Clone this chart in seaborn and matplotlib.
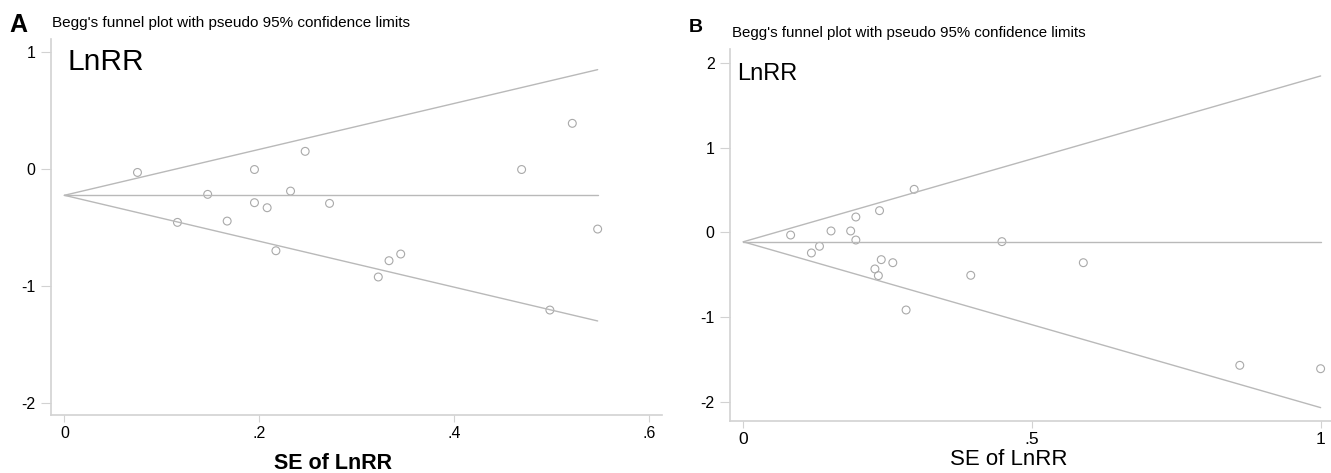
import numpy as np
import pandas as pd
import matplotlib
matplotlib.use("Agg")
import matplotlib.pyplot as plt
import seaborn as sns

# панель A: SE и LnRR отдельных исследований
se_a = [0.075, 0.116, 0.147, 0.167, 0.195, 0.195, 0.208, 0.217, 0.232, 0.247,
        0.272, 0.322, 0.333, 0.345, 0.469, 0.498, 0.521, 0.547]
lnrr_a = [-0.03, -0.456, -0.217, -0.445, -0.005, -0.288, -0.331, -0.698, -0.189, 0.15,
          -0.294, -0.922, -0.783, -0.726, -0.005, -1.204, 0.389, -0.513]
pooled_a = -0.225

# панель B
se_b = [0.082, 0.118, 0.132, 0.152, 0.186, 0.195, 0.195, 0.228, 0.234, 0.236,
        0.239, 0.259, 0.282, 0.296, 0.394, 0.448, 0.589, 0.860, 1.000]
lnrr_b = [-0.03, -0.242, -0.163, 0.018, 0.018, 0.183, -0.089, -0.431, -0.51, 0.258,
          -0.321, -0.357, -0.916, 0.51, -0.506, -0.108, -0.357, -1.57, -1.61]
pooled_b = -0.11

yticks_a = [-2, -1, 0, 1]
xticks_a = [0, 0.2, 0.4, 0.6]
xticklabels_a = ["0", ".2", ".4", ".6"]
yticks_b = [-2, -1, 0, 1, 2]
xticks_b = [0, 0.5, 1]
xticklabels_b = ["0", ".5", "1"]

title = "Begg's funnel plot with pseudo 95% confidence limits"

sns.set_style("white")
plt.rcParams["font.family"] = ["Liberation Sans", "DejaVu Sans"]
plt.rcParams["text.color"] = "black"

W, H = 1331, 473
fig = plt.figure(figsize=(W / 100, H / 100), dpi=100)

line_col = "#b9b9b9"
spine_col = "#d2d2d2"
marker_col = "#a9a9a9"


def px_axes(left, top, right, bottom):
    return fig.add_axes([left / W, 1 - bottom / H, (right - left) / W, (bottom - top) / H])


def funnel(ax, se, lnrr, pooled, xlim, ylim, xticks, xticklabels, yticks, xtick_size):
    df = pd.DataFrame({"se": se, "lnrr": lnrr})
    grid = np.array([0.0] + sorted(se))
    lim = pd.DataFrame({
        "se": np.concatenate([grid, grid, grid]),
        "val": np.concatenate([pooled + 1.96 * grid, pooled - 1.96 * grid,
                               np.full(len(grid), pooled)]),
        "part": ["up"] * len(grid) + ["low"] * len(grid) + ["mid"] * len(grid),
    })
    sns.lineplot(data=lim, x="se", y="val", units="part", estimator=None,
                 color=line_col, linewidth=1.0, sort=False, ax=ax)
    sns.scatterplot(data=df, x="se", y="lnrr", facecolor="none", edgecolor=marker_col,
                    linewidth=0.8, s=32, ax=ax)
    ax.set_xlim(*xlim)
    ax.set_ylim(*ylim)
    ax.set_xticks(xticks)
    ax.set_xticklabels(xticklabels)
    ax.set_yticks(yticks)
    ax.set_yticklabels([str(t) for t in yticks])
    ax.set_xlabel("")
    ax.set_ylabel("")
    for s in ["top", "right"]:
        ax.spines[s].set_visible(False)
    for s in ["left", "bottom"]:
        ax.spines[s].set_color(spine_col)
        ax.spines[s].set_linewidth(1.2)
    ax.tick_params(axis="y", length=7, width=0.8, color=spine_col, pad=4,
                   labelsize=11.5, labelcolor="black", left=True)
    ax.tick_params(axis="x", length=5, width=0.8, color=spine_col, pad=3,
                   labelsize=xtick_size, labelcolor="black", bottom=True)


ax_a = px_axes(51, 39.3, 662, 415.3)
funnel(ax_a, se_a, lnrr_a, pooled_a, (-0.0137, 0.613), (-2.102, 1.106),
       xticks_a, xticklabels_a, yticks_a, 11.5)

ax_b = px_axes(730, 49.3, 1331, 421)
funnel(ax_b, se_b, lnrr_b, pooled_b, (-0.023, 1.018), (-2.228, 2.165),
       xticks_b, xticklabels_b, yticks_b, 12.5)


def ftext(x, y, s, **kw):
    fig.text(x / W, 1 - y / H, s, va="baseline", color="black", **kw)


# подписи панелей и заголовки
ftext(9, 32, "A", fontsize=18, fontweight="bold")
ftext(52, 26.7, title, fontsize=11)
ftext(689, 31.7, "B", fontsize=14, fontweight="bold")
ftext(731.7, 36.7, title, fontsize=10.8)

ftext(67, 70, "LnRR", fontsize=21.5)
ftext(737, 80, "LnRR", fontsize=17)

ftext(332.7, 469.3, "SE of LnRR", fontsize=15.5, fontweight="bold", ha="center")
ftext(1009, 465, "SE of LnRR", fontsize=16, ha="center")

plt.savefig("out.png", dpi=100)
plt.close(fig)
